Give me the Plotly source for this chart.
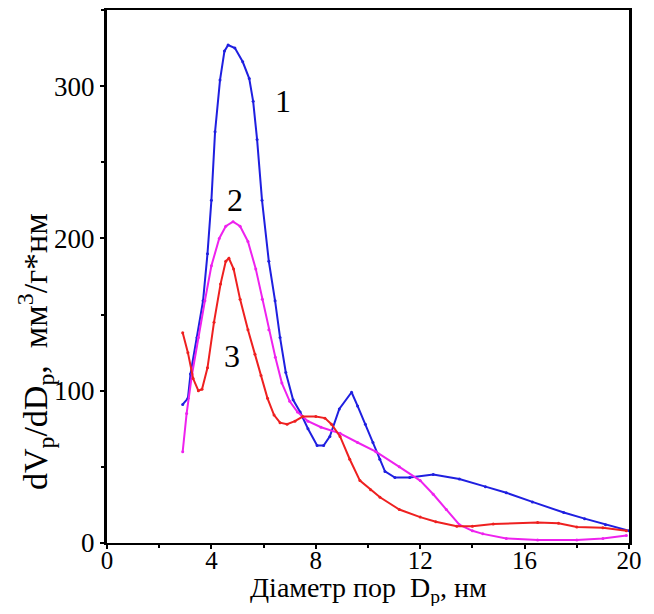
import plotly.graph_objects as go

# Curve 1 (blue)
x1 = [2.9, 3.1, 3.2, 3.45, 3.68, 3.85, 4.0, 4.14, 4.33, 4.5, 4.64, 4.9, 5.2, 5.45, 5.6, 5.75,
      5.94, 6.2, 6.44, 6.63, 6.85, 7.13, 7.4, 7.7, 8.05, 8.3, 8.54, 8.9, 9.37, 9.6, 9.9, 10.19,
      10.45, 10.65, 11.03, 11.6, 12.5, 13.5, 14.5, 15.3, 16.3, 17.5, 18.3, 19.1, 20.0]
y1 = [91, 95, 111, 135, 159, 190, 225, 270, 304, 323, 327, 325, 316, 305, 290, 265,
      225, 185, 159, 135, 112, 94, 86, 75, 64, 64, 70, 88, 99, 90, 78, 66,
      55, 47, 43, 43, 45, 42, 37, 33, 27, 20, 16, 12, 8]

# Curve 2 (magenta)
x2 = [2.9, 3.05, 3.26, 3.5, 3.75, 4.0, 4.3, 4.55, 4.83, 5.1, 5.4, 5.7, 5.95, 6.2, 6.45, 6.7,
      7.0, 7.3, 7.7, 8.2, 8.93, 9.6, 10.3, 11.2, 12.0, 12.5, 13.0, 13.5, 14.0, 14.4, 15.3,
      16.5, 18.0, 19.0, 19.9]
y2 = [60, 85, 111, 135, 159, 182, 200, 208, 211, 208, 198, 180, 160, 140, 122, 105,
      93, 86, 80, 76, 72, 66, 60, 50, 41, 32, 22, 12, 8, 6, 3,
      2, 2, 3, 5]

# Curve 3 (red)
x3 = [2.9, 3.1, 3.3, 3.5, 3.64, 3.85, 4.1, 4.35, 4.55, 4.67, 4.85, 5.1, 5.4, 5.67, 5.9, 6.15,
      6.4, 6.63, 6.9, 7.2, 7.5, 8.0, 8.35, 8.6, 8.93, 9.3, 9.69, 10.1, 10.46, 11.2, 12.0,
      12.6, 13.4, 14.0, 14.8, 16.5, 17.3, 18.0, 19.0, 19.9]
y3 = [138, 125, 108, 100, 101, 115, 145, 170, 185, 187, 180, 160, 140, 124, 110, 95,
      84, 79, 78, 80, 83, 83, 82, 78, 70, 55, 41, 35, 30, 22, 17,
      14, 11, 11, 12.5, 13.5, 13, 10.5, 10, 8]

x_ticks = [0, 4, 8, 12, 16, 20]
y_ticks = [0, 100, 200, 300]

curve_labels = ["1", "2", "3"]
label_x = [6.74, 4.9, 4.8]
label_y = [290, 225, 123]

FONT = "Liberation Serif"

fig = go.Figure()
for xs, ys, col in [(x1, y1, "#1f1fe0"), (x2, y2, "#ee22ee"), (x3, y3, "#ee2020")]:
    fig.add_trace(go.Scatter(x=xs, y=ys, mode="lines+markers",
                             line=dict(color=col, width=2),
                             marker=dict(color=col, size=3),
                             showlegend=False))

for t, lx, ly in zip(curve_labels, label_x, label_y):
    fig.add_annotation(x=lx, y=ly, text=t, showarrow=False,
                       font=dict(family=FONT, size=32, color="black"))

fig.add_annotation(xref="paper", yref="paper", x=-0.138, y=0.36,
                   text="dV<sub>p</sub>/dD<sub>p</sub>,  мм<sup>3</sup>/г*нм",
                   textangle=-90, showarrow=False, xanchor="center", yanchor="middle",
                   font=dict(family=FONT, size=34, color="black"))

fig.add_annotation(xref="paper", yref="paper", x=0.5, y=-0.087,
                   text="Діаметр пор  D<sub>p</sub>, нм",
                   showarrow=False, xanchor="center", yanchor="middle",
                   font=dict(family=FONT, size=28, color="black"))

fig.update_layout(
    width=638, height=598,
    margin=dict(l=99, r=17, t=2, b=63),
    paper_bgcolor="white", plot_bgcolor="white",
    font=dict(family=FONT, color="black"),
)
fig.update_xaxes(range=[0, 20], tickvals=x_ticks, ticktext=[str(v) for v in x_ticks],
                 tickfont=dict(family=FONT, size=25, color="black"),
                 ticklabelstandoff=-10,
                 showgrid=False, zeroline=False, automargin=False,
                 showline=True, linecolor="black", linewidth=2, mirror=True,
                 ticks="outside", ticklen=4, tickwidth=2, tickcolor="black",
                 minor=dict(dtick=2, ticks="outside", ticklen=3, tickwidth=2, tickcolor="black"))
fig.update_yaxes(range=[0, 350], tickvals=y_ticks, ticktext=[str(v) for v in y_ticks],
                 tickfont=dict(family=FONT, size=27, color="black"),
                 showgrid=False, zeroline=False, automargin=False,
                 showline=True, linecolor="black", linewidth=3, mirror=True,
                 ticks="outside", ticklen=4, tickwidth=2, tickcolor="black",
                 minor=dict(dtick=50, ticks="outside", ticklen=3, tickwidth=2, tickcolor="black"))

fig.write_html("out.html")
